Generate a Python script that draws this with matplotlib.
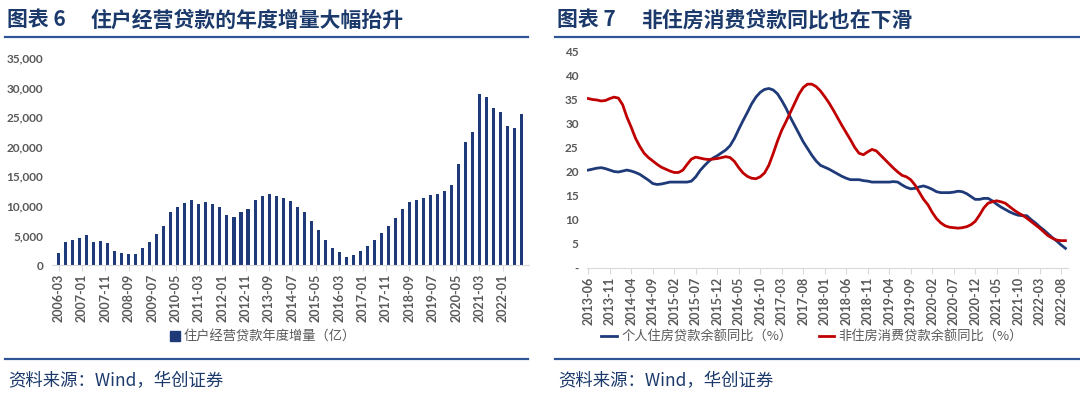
import numpy as np
import matplotlib
matplotlib.use('Agg')
import matplotlib.pyplot as plt
from matplotlib.lines import Line2D
from matplotlib.patches import Patch

plt.rcParams['font.family'] = ['Lato', 'Noto Sans CJK SC', 'DejaVu Sans']

# ---- data: left chart (quarterly, 2006-03 .. 2022-09) ----
biz_loan_incr = [2000, 3840, 4290, 4570, 5070, 3950, 4010, 3670, 2450, 2060,
                 1780, 1890, 2900, 3950, 5230, 6570, 9020, 9860, 10520, 10970,
                 10250, 10640, 10250, 9740, 8520, 8130, 9020, 9520, 10910, 11690,
                 12080, 11750, 11300, 10800, 9800, 8910, 7410, 5850, 4180, 2840,
                 2170, 1340, 1670, 2450, 3290, 4180, 5350, 6630, 7910, 9520,
                 10640, 11030, 11300, 11800, 12030, 12530, 13590, 17090, 20880, 22550,
                 28950, 28450, 26610, 25890, 23440, 23220, 25610]
left_tick_labels = ['2006-03', '2007-01', '2007-11', '2008-09', '2009-07', '2010-05',
                    '2011-03', '2012-01', '2012-11', '2013-09', '2014-07', '2015-05',
                    '2016-03', '2017-01', '2017-11', '2018-09', '2019-07', '2020-05',
                    '2021-03', '2022-01']

# ---- data: right chart (monthly, 2013-06 .. 2022-09) ----
housing_yoy = [20.4, 20.6, 20.8, 20.9, 20.7, 20.4, 20.1, 20.0, 20.2, 20.4,
               20.2, 19.9, 19.5, 18.9, 18.3, 17.6, 17.4, 17.5, 17.7, 17.9,
               17.9, 17.9, 17.9, 17.9, 18.1, 19.0, 20.3, 21.3, 22.2, 22.9,
               23.4, 24.0, 24.6, 25.5, 27.0, 28.9, 30.7, 32.4, 34.2, 35.6,
               36.6, 37.2, 37.4, 37.1, 36.3, 34.9, 33.3, 31.4, 29.7, 28.0,
               26.3, 24.9, 23.5, 22.3, 21.4, 21.0, 20.6, 20.1, 19.6, 19.1,
               18.7, 18.4, 18.4, 18.4, 18.2, 18.1, 17.9, 17.9, 17.9, 17.9,
               17.9, 18.0, 17.9, 17.3, 16.8, 16.5, 16.6, 16.9, 17.1, 16.8,
               16.4, 15.9, 15.7, 15.7, 15.7, 15.8, 16.0, 15.9, 15.5, 14.9,
               14.3, 14.3, 14.5, 14.5, 14.0, 13.3, 12.7, 12.2, 11.7, 11.3,
               11.0, 10.9, 10.9, 10.1, 9.4, 8.6, 7.9, 7.1, 6.3, 5.6,
               4.8, 4.1]
non_housing_yoy = [35.3, 35.1, 35.0, 34.8, 34.9, 35.3, 35.6, 35.4, 34.0, 31.4,
                   29.3, 27.0, 25.3, 23.9, 23.0, 22.3, 21.6, 21.0, 20.6, 20.2,
                   19.9, 19.9, 20.4, 21.6, 22.7, 23.1, 22.9, 22.7, 22.6, 22.7,
                   22.8, 23.0, 23.2, 23.0, 22.2, 20.9, 19.8, 19.1, 18.7, 18.6,
                   19.0, 19.8, 21.4, 23.8, 26.4, 28.7, 30.5, 32.4, 34.3, 36.2,
                   37.6, 38.3, 38.3, 37.8, 36.9, 35.7, 34.4, 32.9, 31.3, 29.7,
                   28.2, 26.7, 25.1, 23.9, 23.6, 24.2, 24.7, 24.4, 23.5, 22.6,
                   21.7, 20.8, 20.0, 19.3, 19.0, 18.4, 17.3, 15.8, 14.3, 13.2,
                   11.6, 10.3, 9.4, 8.8, 8.5, 8.4, 8.3, 8.4, 8.6, 9.0,
                   9.7, 11.0, 12.5, 13.5, 13.8, 14.0, 13.8, 13.5, 12.8, 12.1,
                   11.5, 11.0, 10.4, 9.7, 9.0, 8.3, 7.5, 6.7, 6.2, 5.8,
                   5.7, 5.7]
right_tick_labels = ['2013-06', '2013-11', '2014-04', '2014-09', '2015-02', '2015-07',
                     '2015-12', '2016-05', '2016-10', '2017-03', '2017-08', '2018-01',
                     '2018-06', '2018-11', '2019-04', '2019-09', '2020-02', '2020-07',
                     '2020-12', '2021-05', '2021-10', '2022-03', '2022-08']

navy = '#1F3A78'
red = '#C00000'
title_col = '#1B3A6B'
rule_col = '#2F5597'
grey = '#595959'
cjk = ['Noto Sans CJK SC', 'DejaVu Sans']

W, H = 1080, 399
fig = plt.figure(figsize=(W / 100, H / 100), dpi=100)


def box(x0, y0, x1, y1):
    # pixel box (top-left origin) -> figure fraction rect
    return [x0 / W, 1 - y1 / H, (x1 - x0) / W, (y1 - y0) / H]


def frame(x0, x1, num, title):
    fig.text((x0 + 2) / W, 1 - 20 / H, f'图表 {num}', family=cjk, fontsize=15, fontweight='bold',
             color=title_col, va='center', ha='left')
    fig.text((x0 + 86) / W, 1 - 20 / H, title, family=cjk, fontsize=15, fontweight='bold',
             color=title_col, va='center', ha='left')
    fig.add_artist(Line2D([x0 / W, x1 / W], [1 - 37 / H] * 2, color=rule_col, lw=1.6))
    fig.add_artist(Line2D([x0 / W, x1 / W], [1 - 359 / H] * 2, color=rule_col, lw=1.6))
    fig.text((x0 + 3) / W, 1 - 381 / H, '资料来源：Wind，华创证券', family=cjk, fontsize=12.5,
             color=title_col, va='center', ha='left', style='italic')


def style_axis(ax):
    for s in ['top', 'right', 'left']:
        ax.spines[s].set_visible(False)
    ax.spines['bottom'].set_color('#D9D9D9')
    ax.tick_params(axis='y', length=0, labelsize=8.5, labelcolor=grey, pad=6)
    ax.tick_params(axis='x', length=4, color='#D9D9D9', labelsize=9, labelcolor=grey,
                   rotation=90, pad=2)
    for lab in ax.get_xticklabels() + ax.get_yticklabels():
        lab.set_fontweight('bold')


# ---- left chart ----
frame(5, 528, 6, '住户经营贷款的年度增量大幅抬升')
ax1 = fig.add_axes(box(51.6, 58, 528.6, 265))
months = np.arange(len(biz_loan_incr)) * 3
ax1.bar(months, biz_loan_incr, width=1.3, color=navy)
ax1.set_xlim(-3, 201)
ax1.set_ylim(0, 35000)
ax1.set_yticks(np.arange(0, 35001, 5000))
ax1.set_yticklabels([f'{v:,}' for v in range(0, 35001, 5000)])
ax1.set_xticks(np.arange(len(left_tick_labels)) * 10)
ax1.set_xticklabels(left_tick_labels)
style_axis(ax1)
ax1.legend(handles=[Patch(color=navy, label='住户经营贷款年度增量（亿）')],
           loc='center', bbox_to_anchor=(263 / W, 1 - 337 / H), bbox_transform=fig.transFigure,
           frameon=False, prop={'family': cjk, 'size': 9.5}, labelcolor=grey,
           handlelength=0.7, handleheight=0.7, handletextpad=0.3)

# ---- right chart ----
frame(555, 1080, 7, '非住房消费贷款同比也在下滑')
ax2 = fig.add_axes(box(587, 52, 1068, 268))
idx = np.arange(len(housing_yoy))
ax2.plot(idx, housing_yoy, color=navy, lw=2.0, label='个人住房贷款余额同比（%）')
ax2.plot(idx, non_housing_yoy, color=red, lw=2.0, label='非住房消费贷款余额同比（%）')
ax2.set_xlim(-0.3, 111.6)
ax2.set_ylim(0, 45)
ax2.set_yticks(np.arange(0, 46, 5))
ax2.set_yticklabels(['-'] + [str(v) for v in range(5, 46, 5)])
ax2.set_xticks(np.arange(len(right_tick_labels)) * 5)
ax2.set_xticklabels(right_tick_labels)
style_axis(ax2)
ax2.legend(loc='center', bbox_to_anchor=(812 / W, 1 - 337 / H), bbox_transform=fig.transFigure,
           ncol=2, frameon=False, prop={'family': cjk, 'size': 9.5}, labelcolor=grey,
           handlelength=1.2, handletextpad=0.3, columnspacing=2.0)

fig.savefig('out.png', dpi=100)
